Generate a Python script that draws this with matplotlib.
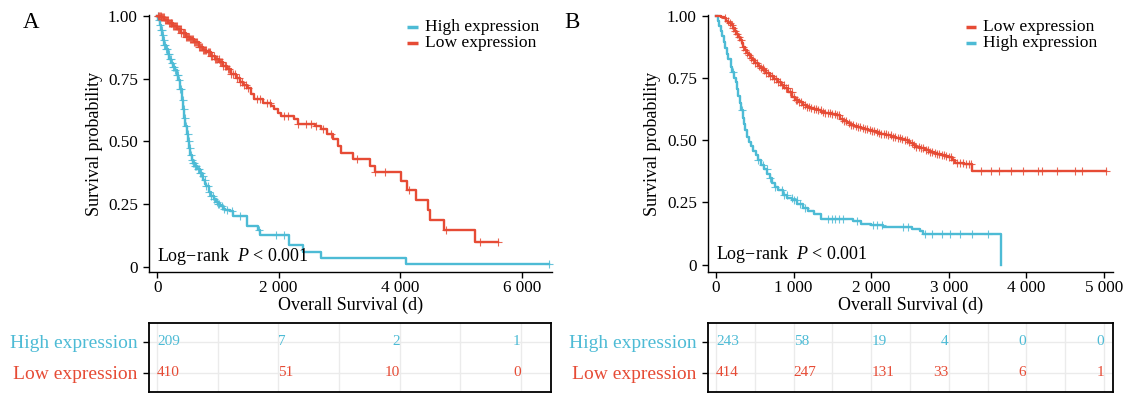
import numpy as np
import matplotlib
matplotlib.use('Agg')
import matplotlib.pyplot as plt

plt.rcParams['font.family'] = ['Liberation Serif', 'DejaVu Serif']
plt.rcParams['mathtext.fontset'] = 'custom'
plt.rcParams['mathtext.rm'] = 'Liberation Serif'
plt.rcParams['mathtext.it'] = 'Liberation Serif:italic'

RED = '#E64B35'
CYAN = '#4DBBD5'

# ---- panel A: KM step knots (time in days, survival after step) ----
a_high_t = [0, 20, 40, 60, 80, 100, 120, 140, 170, 200, 230, 260, 290, 320, 350, 380, 405,
            425, 445, 465, 485, 505, 525, 545, 565, 586, 620, 660, 700, 730, 760, 790, 811,
            850, 894, 930, 960, 1000, 1033, 1080, 1120, 1200, 1255, 1478, 1667, 1700, 2172,
            2394, 2700, 4089]
a_high_s = [1.0, 0.985, 0.965, 0.945, 0.925, 0.905, 0.885, 0.867, 0.848, 0.83, 0.812, 0.797,
            0.785, 0.765, 0.745, 0.71, 0.665, 0.63, 0.595, 0.56, 0.53, 0.50, 0.475, 0.445,
            0.425, 0.412, 0.40, 0.388, 0.375, 0.36, 0.345, 0.33, 0.321, 0.30, 0.281, 0.27,
            0.26, 0.25, 0.241, 0.232, 0.228, 0.221, 0.201, 0.161, 0.148, 0.128, 0.088, 0.057,
            0.035, 0.012]
a_high_end = 6450
a_high_cens = [15, 30, 45, 60, 75, 90, 105, 120, 135, 150, 165, 180, 195, 210, 225, 240, 260,
               280, 300, 320, 340, 360, 380, 400, 420, 440, 460, 480, 500, 520, 540, 560,
               575, 589, 605, 620, 644, 665, 680, 700, 728, 750, 780, 811, 835, 860, 894,
               915, 940, 978, 1000, 1020, 1061, 1100, 1144, 1228, 1367, 1672, 1950, 2089,
               6450]

a_low_t = [0, 60, 120, 180, 255, 330, 400, 470, 533, 600, 680, 750, 811, 880, 950, 1020,
           1089, 1150, 1220, 1290, 1367, 1420, 1478, 1540, 1589, 1750, 1870, 1922, 1990,
           2033, 2255, 2311, 2600, 2700, 2800, 2900, 2978, 3020, 3228, 3506, 3589, 4006,
           4117, 4256, 4460, 4490, 4728, 5228]
a_low_s = [1.0, 0.995, 0.985, 0.972, 0.961, 0.948, 0.932, 0.918, 0.908, 0.895, 0.878, 0.866,
           0.855, 0.842, 0.828, 0.815, 0.801, 0.787, 0.768, 0.752, 0.735, 0.725, 0.712,
           0.690, 0.668, 0.655, 0.640, 0.628, 0.612, 0.600, 0.588, 0.568, 0.560, 0.548,
           0.528, 0.508, 0.481, 0.455, 0.431, 0.401, 0.377, 0.341, 0.305, 0.268, 0.228,
           0.188, 0.145, 0.097]
a_low_end = 5617
a_low_cens = [10, 25, 40, 55, 70, 85, 100, 115, 130, 145, 160, 175, 190, 205, 220, 235, 250,
              265, 280, 295, 310, 325, 340, 355, 370, 385, 400, 420, 440, 455, 470, 490,
              510, 525, 540, 555, 570, 590, 610, 625, 640, 660, 680, 700, 715, 730, 750,
              770, 790, 810, 830, 850, 870, 890, 910, 930, 950, 970, 990, 1010, 1030, 1050,
              1070, 1090, 1110, 1130, 1160, 1190, 1220, 1250, 1280, 1310, 1340, 1370, 1400,
              1430, 1460, 1500, 1650, 1700, 1811, 1850, 2089, 2150, 2311, 2450, 2533, 2617,
              2728, 2867, 3283, 3589, 3755, 4144, 4756, 5311, 5617]

# ---- panel B ----
b_low_t = [0, 70, 100, 130, 160, 187, 215, 240, 260, 280, 305, 330, 350, 374, 400, 420, 445,
           467, 500, 540, 570, 607, 650, 700, 750, 794, 840, 880, 930, 981, 1020, 1070,
           1120, 1168, 1210, 1260, 1310, 1355, 1400, 1450, 1500, 1542, 1600, 1640, 1682,
           1730, 1780, 1820, 1869, 1910, 1960, 2010, 2056, 2100, 2130, 2160, 2196, 2260,
           2320, 2380, 2430, 2470, 2500, 2540, 2570, 2630, 2690, 2750, 2804, 2850, 2900,
           2950, 2991, 3040, 3084, 3200, 3294]
b_low_s = [1.0, 0.997, 0.99, 0.98, 0.972, 0.964, 0.952, 0.94, 0.928, 0.917, 0.904, 0.89,
           0.877, 0.863, 0.852, 0.843, 0.833, 0.823, 0.811, 0.80, 0.792, 0.783, 0.772, 0.76,
           0.748, 0.736, 0.722, 0.71, 0.693, 0.675, 0.663, 0.652, 0.643, 0.635, 0.63, 0.625,
           0.62, 0.615, 0.611, 0.608, 0.605, 0.601, 0.585, 0.576, 0.568, 0.562, 0.556,
           0.552, 0.548, 0.544, 0.540, 0.537, 0.534, 0.530, 0.527, 0.524, 0.521, 0.515,
           0.510, 0.505, 0.501, 0.495, 0.488, 0.481, 0.474, 0.467, 0.460, 0.453, 0.447,
           0.443, 0.440, 0.437, 0.434, 0.42, 0.407, 0.403, 0.375]
b_low_end = 5030
b_low_cens = [120, 150, 175, 200, 225, 250, 275, 300, 325, 350, 375, 400, 425, 450, 475, 500,
              525, 550, 575, 600, 625, 650, 675, 700, 725, 750, 775, 800, 825, 850, 875,
              900, 925, 950, 975, 1000, 1025, 1050, 1075, 1100, 1125, 1150, 1175, 1200,
              1230, 1260, 1290, 1320, 1350, 1380, 1410, 1440, 1470, 1500, 1530, 1560, 1590,
              1620, 1650, 1680, 1710, 1740, 1770, 1800, 1830, 1860, 1890, 1920, 1950, 1980,
              2010, 2040, 2070, 2100, 2130, 2160, 2190, 2220, 2250, 2280, 2310, 2340, 2370,
              2400, 2430, 2460, 2490, 2520, 2550, 2580, 2610, 2640, 2670, 2700, 2730, 2760,
              2790, 2820, 2850, 2880, 2910, 2940, 2970, 3000, 3030, 3060, 3100, 3140, 3180,
              3220, 3260, 3285, 3410, 3540, 3650, 3800, 3950, 4150, 4200, 4400, 4620, 4720,
              5030]

b_high_t = [0, 20, 40, 60, 80, 100, 120, 140, 160, 187, 210, 235, 257, 275, 290, 310, 327,
            345, 360, 380, 397, 420, 450, 480, 514, 545, 580, 615, 654, 690, 720, 760, 794,
            864, 920, 981, 1050, 1121, 1190, 1262, 1355, 1760, 1869, 2000, 2150, 2522, 2629,
            2672, 3670]
b_high_s = [1.0, 0.98, 0.96, 0.94, 0.918, 0.895, 0.87, 0.848, 0.825, 0.796, 0.775, 0.752,
            0.736, 0.705, 0.68, 0.65, 0.621, 0.59, 0.565, 0.54, 0.514, 0.495, 0.475, 0.457,
            0.44, 0.42, 0.40, 0.383, 0.366, 0.348, 0.33, 0.313, 0.299, 0.279, 0.268, 0.259,
            0.243, 0.226, 0.215, 0.205, 0.185, 0.175, 0.165, 0.158, 0.152, 0.145, 0.134,
            0.121, 0.0]
b_high_end = 3670
b_high_cens = [223, 330, 545, 600, 653, 696, 760, 846, 880, 911, 975, 1010, 1040, 1082, 1150,
               1447, 1491, 1534, 1580, 1641, 1813, 2027, 2071, 2135, 2414, 2478, 2693, 2780,
               2909, 3015, 3144, 3295, 3501]

# ---- risk tables ----
a_risk_t = [0, 2000, 4000, 6000]
a_risk_high = [209, 7, 2, 1]
a_risk_low = [410, 51, 10, 0]
b_risk_t = [0, 1000, 2000, 3000, 4000, 5000]
b_risk_high = [243, 58, 19, 4, 0, 0]
b_risk_low = [414, 247, 131, 33, 6, 1]

W, H = 1127, 396


def px_axes(left, top, right, bottom):
    return fig.add_axes([left / W, 1 - bottom / H, (right - left) / W, (bottom - top) / H])


def km(ax, t, s, end, cens, color):
    t = np.asarray(t, float)
    s = np.asarray(s, float)
    tt = np.append(t, end)
    ss = np.append(s, s[-1])
    ax.step(tt, ss, where='post', color=color, lw=1.7, clip_on=False, zorder=3)
    c = np.asarray(cens, float)
    cy = s[np.searchsorted(t, c, side='right') - 1]
    ax.plot(c, cy, ls='none', marker='+', ms=6, mew=0.8, color=color, alpha=0.85,
            clip_on=False, zorder=3)


def fmt_thousands(v):
    v = int(v)
    return '0' if v == 0 else f'{v:,}'.replace(',', ' ')


def main_panel(ax, curves, xlim, ylim, xticks, legend):
    for t, s, end, cens, color in curves:
        km(ax, t, s, end, cens, color)
    ax.set_xlim(*xlim)
    ax.set_ylim(*ylim)
    for sp in ['top', 'right']:
        ax.spines[sp].set_visible(False)
    for sp in ['left', 'bottom']:
        ax.spines[sp].set_linewidth(1.0)
    ax.set_xticks(xticks)
    ax.set_xticklabels([fmt_thousands(x) for x in xticks])
    ax.set_yticks([0, 0.25, 0.5, 0.75, 1.0])
    ax.set_yticklabels(['0', '0.25', '0.50', '0.75', '1.00'])
    ax.tick_params(labelsize=12.3, length=4, width=1.0, direction='out')
    ax.tick_params(axis='x', pad=2)
    ax.tick_params(axis='y', pad=4)
    ax.set_ylabel('Survival probability', fontsize=13)
    ax.yaxis.label.set_va('center')
    ax.yaxis.set_label_coords(-0.136, 0.5)
    ax.set_xlabel('Overall Survival (d)', fontsize=13)
    ax.xaxis.label.set_va('center')
    ax.xaxis.set_label_coords(0.5, -0.128)
    ax.text(0, 0.04, 'Log\u2212rank  $P$ < 0.001', fontsize=13, ha='left', va='center')
    hx0, hx1, tx, labels, colors, ys = legend
    for label, color, y in zip(labels, colors, ys):
        ax.plot([hx0, hx1], [y, y], transform=ax.transAxes, color=color, lw=2.5,
                solid_capstyle='butt', clip_on=False)
        ax.text(tx, y, label, transform=ax.transAxes, fontsize=12.6, ha='left', va='center')


def risk_table(ax, times, high, low, xlim, grid_step):
    ax.set_xlim(*xlim)
    ax.set_ylim(0.4, 2.6)
    ax.set_xticks(np.arange(0, times[-1] + 1, grid_step))
    ax.set_xticklabels([])
    ax.tick_params(axis='x', length=0)
    ax.grid(True, color='#EBEBEB', lw=1.0)
    ax.set_axisbelow(True)
    ax.set_yticks([2, 1])
    ax.set_yticklabels(['High expression', 'Low expression'], fontsize=14)
    for lab, col in zip(ax.get_yticklabels(), [CYAN, RED]):
        lab.set_color(col)
    ax.tick_params(axis='y', length=4, width=1.0, pad=4.5)
    for sp in ax.spines.values():
        sp.set_linewidth(1.3)
    half = times[-1] / 2
    for row, vals, col in [(2, high, CYAN), (1, low, RED)]:
        for t, v in zip(times, vals):
            ax.text(t, row, str(v), color=col, fontsize=11, va='center',
                    ha='left' if t < half else 'right')


fig = plt.figure(figsize=(W / 100, H / 100), dpi=100)

axA = px_axes(149, 15, 552, 272)
main_panel(axA,
           [(a_high_t, a_high_s, a_high_end, a_high_cens, CYAN),
            (a_low_t, a_low_s, a_low_end, a_low_cens, RED)],
           (-135, 6500), (-0.021, 1.004), [0, 2000, 4000, 6000],
           (0.640, 0.667, 0.685, ['High expression', 'Low expression'], [CYAN, RED],
            [0.9545, 0.890]))

axB = px_axes(708, 15, 1113, 272)
main_panel(axB,
           [(b_high_t, b_high_s, b_high_end, b_high_cens, CYAN),
            (b_low_t, b_low_s, b_low_end, b_low_cens, RED)],
           (-103, 5116), (-0.03, 1.004), [0, 1000, 2000, 3000, 4000, 5000],
           (0.637, 0.662, 0.679, ['Low expression', 'High expression'], [RED, CYAN],
            [0.9545, 0.890]))

tA = px_axes(149, 322.7, 551, 391.7)
risk_table(tA, a_risk_t, a_risk_high, a_risk_low, (-135, 6500), 1000)
tB = px_axes(708, 322.7, 1113, 391.7)
risk_table(tB, b_risk_t, b_risk_high, b_risk_low, (-103, 5116), 500)

fig.text(30.7 / W, 1 - 22.5 / H, 'A', fontsize=16.5, ha='center', va='center')
fig.text(572 / W, 1 - 22.5 / H, 'B', fontsize=16.5, ha='center', va='center')

fig.savefig('out.png', dpi=100)
